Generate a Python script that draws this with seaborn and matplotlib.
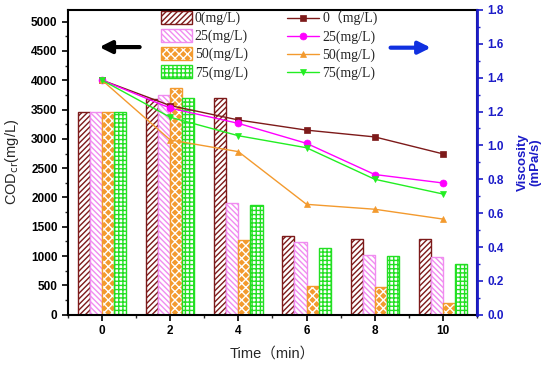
import numpy as np
import pandas as pd
import matplotlib
matplotlib.use("Agg")
import matplotlib.pyplot as plt
import seaborn as sns
from matplotlib.ticker import MultipleLocator

# ---------------- data ----------------
times = [0, 2, 4, 6, 8, 10]
concs = ["0", "25", "50", "75"]
cod_0 = [3450, 3675, 3690, 1345, 1285, 1295]
cod_25 = [3450, 3745, 1900, 1245, 1025, 990]
cod_50 = [3450, 3870, 1270, 495, 465, 205]
cod_75 = [3450, 3705, 1865, 1140, 995, 865]
visc_0 = [1.385, 1.235, 1.150, 1.090, 1.050, 0.950]
visc_25 = [1.385, 1.220, 1.130, 1.012, 0.828, 0.778]
visc_50 = [1.385, 1.032, 0.963, 0.652, 0.623, 0.565]
visc_75 = [1.385, 1.166, 1.057, 0.986, 0.800, 0.713]
bar_labels = ["0(mg/L)", "25(mg/L)", "50(mg/L)", "75(mg/L)"]
line_labels = ["0（mg/L)", "25(mg/L)", "50(mg/L)", "75(mg/L)"]

cod_df = pd.DataFrame({
    "time": times * 4,
    "conc": [c for c in concs for _ in times],
    "cod": cod_0 + cod_25 + cod_50 + cod_75,
})
visc_df = pd.DataFrame({
    "time": times * 4,
    "conc": [c for c in concs for _ in times],
    "visc": visc_0 + visc_25 + visc_50 + visc_75,
})

# ---------------- style ----------------
sns.set_style("ticks")
plt.rcParams["font.family"] = ["Liberation Sans", "Noto Sans CJK SC", "DejaVu Sans"]
plt.rcParams["hatch.linewidth"] = 1.0

maroon = "#7D1A1A"
pink_bar = "#F08CF0"
orange = "#F39A2E"
green_bar = "#22E022"
magenta = "#FF00FF"
green_line = "#22EE22"
blue = "#1C1CC8"


def set_hcol(p, c):
    rgba = matplotlib.colors.to_rgba(c)
    if hasattr(p, "set_hatchcolor"):
        p.set_hatchcolor(rgba)
    p._hatch_color = rgba


fig = plt.figure(figsize=(5.5, 3.66), dpi=100)
ax = fig.add_axes([0.1236, 0.140, 0.7436, 0.833])

sns.barplot(data=cod_df, x="time", y="cod", hue="conc", hue_order=concs,
            native_scale=True, width=0.71, errorbar=None, legend=False,
            palette=[maroon, pink_bar, orange, green_bar], ax=ax)

bar_styles = [
    dict(face="white", edge=maroon, hatch="//////", hcol=maroon),
    dict(face="white", edge=pink_bar, hatch="\\\\\\\\\\\\", hcol=pink_bar),
    dict(face=orange, edge=orange, hatch="xxxx", hcol="white"),
    dict(face="white", edge=green_bar, hatch="++++", hcol=green_bar),
]
for cont, st in zip(ax.containers, bar_styles):
    for p in cont.patches:
        p.set_facecolor(st["face"])
        p.set_edgecolor(st["edge"])
        p.set_hatch(st["hatch"])
        p.set_linewidth(1.0)
        set_hcol(p, st["hcol"])

ax.set_xlim(-1, 11)
ax.set_ylim(0, 5200)
ax.xaxis.set_major_locator(MultipleLocator(2))
ax.xaxis.set_minor_locator(MultipleLocator(1))
ax.yaxis.set_major_locator(MultipleLocator(500))
ax.yaxis.set_minor_locator(MultipleLocator(250))
ax.tick_params(axis="both", which="major", direction="out", length=4, width=1.2,
               labelsize=8.5, colors="black")
ax.tick_params(axis="both", which="minor", direction="out", length=2.5, width=1.0)
for lab in ax.get_xticklabels() + ax.get_yticklabels():
    lab.set_fontweight("bold")
for s in ax.spines.values():
    s.set_linewidth(1.5)
    s.set_color("black")
ax.set_xlabel("Time（min）", fontsize=10.5)
ax.set_ylabel("COD$_{\\rm cr}$(mg/L)", fontsize=10.5)
ax.yaxis.set_label_coords(-0.115, 0.5)
ax.xaxis.set_label_coords(0.5, -0.105)

# bar legend
leg1 = ax.legend(ax.containers, bar_labels, loc="upper left", bbox_to_anchor=(0.225, 1.0),
                 frameon=False, prop={"family": "Liberation Serif", "size": 10},
                 handlelength=2.2, handleheight=1.0, labelspacing=0.28, handletextpad=0.2,
                 borderpad=0.1, borderaxespad=0)
for h, st in zip(leg1.legend_handles, bar_styles):
    h.set_facecolor(st["face"])
    h.set_edgecolor(st["edge"])
    h.set_hatch(st["hatch"])
    set_hcol(h, st["hcol"])

# ---------------- viscosity ----------------
ax2 = ax.twinx()
sns.lineplot(data=visc_df, x="time", y="visc", hue="conc", hue_order=concs,
             style="conc", style_order=concs,
             markers={"0": "s", "25": "o", "50": "^", "75": "v"}, dashes=False,
             palette=[maroon, magenta, orange, green_line], legend=False,
             linewidth=1.0, markersize=5, markeredgewidth=0.5, ax=ax2)
for ln, c in zip(ax2.lines, [maroon, magenta, orange, green_line]):
    ln.set_markeredgecolor(c)
ax2.set_ylim(0, 1.8)
ax2.yaxis.set_major_locator(MultipleLocator(0.2))
ax2.yaxis.set_minor_locator(MultipleLocator(0.1))
ax2.yaxis.set_major_formatter(matplotlib.ticker.FormatStrFormatter("%.1f"))
ax2.tick_params(axis="y", which="major", direction="out", length=4, width=1.2,
                labelsize=8.5, colors=blue)
ax2.tick_params(axis="y", which="minor", direction="out", length=2.5, width=1.0, colors=blue)
for lab in ax2.get_yticklabels():
    lab.set_fontweight("bold")
ax2.spines["right"].set_color(blue)
ax2.spines["right"].set_linewidth(2)
for k in ["left", "top", "bottom"]:
    ax2.spines[k].set_visible(False)
ax2.set_ylabel("Viscosity\n(mPa/s)", fontsize=9.5, fontweight="bold", color=blue,
               linespacing=1.0)
ax2.yaxis.set_label_coords(1.098, 0.5)
ax2.set_xlabel("")

ax2.legend(ax2.lines, line_labels, loc="upper left", bbox_to_anchor=(0.533, 1.0),
           frameon=False, prop={"family": ["Liberation Serif", "Noto Sans CJK SC"], "size": 10},
           handlelength=2.3, labelspacing=0.32, handletextpad=0.2,
           borderpad=0.1, borderaxespad=0)

# arrows
ax2.annotate("", xy=(0.070, 0.878), xytext=(0.182, 0.878), xycoords="axes fraction",
             arrowprops=dict(arrowstyle="-|>", color="black", lw=3, mutation_scale=18))
ax2.annotate("", xy=(0.894, 0.876), xytext=(0.782, 0.876), xycoords="axes fraction",
             arrowprops=dict(arrowstyle="-|>", color="#1030E0", lw=3, mutation_scale=18))

fig.savefig("out.png", dpi=100)
